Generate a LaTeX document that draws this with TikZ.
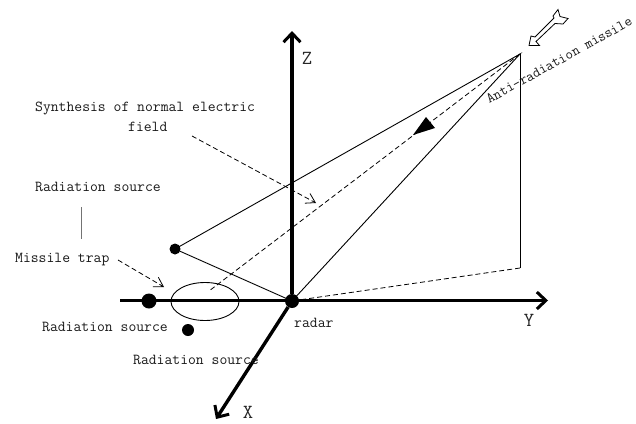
\documentclass[tikz,border=0pt]{standalone}
\usetikzlibrary{arrows.meta,shapes.geometric}
\tikzset{
  every picture/.style={x=1pt,y=-1pt},
  lbl/.style={inner sep=0pt,anchor=west,font=\fontsize{15.24}{16}\selectfont\ttfamily,text=black!90},
  axl/.style={inner sep=0pt,font=\fontsize{20}{21}\selectfont\ttfamily,text=black!85},
  axis/.style={line width=3.4pt,-{Straight Barb[length=9pt,width=17pt,line width=3pt]}},
  thin line/.style={line width=0.9pt},
  dash line/.style={line width=0.8pt,dash pattern=on 5pt off 3pt},
  dash arrow/.style={dash line,-{Straight Barb[length=9pt,width=11pt,line width=0.8pt]}},
  dot/.style={circle,fill=black,inner sep=0pt},
}
\begin{document}
\begin{tikzpicture}
\useasboundingbox (0,0) rectangle (636,423);
\clip (0,0) rectangle (636,423);
\coordinate (zend) at (292,31);
\coordinate (yb) at (120,300.5);
\coordinate (yend) at (548,300.5);
\coordinate (xend) at (216,419);
\coordinate (M) at (520,54);
\coordinate (F) at (520,268);
\coordinate (dashend) at (209,291);
\coordinate (s1a) at (192,136);
\coordinate (s1b) at (316,203);
\coordinate (s2a) at (118,260);
\coordinate (s2b) at (164,287);
\coordinate (b1) at (81,207);
\coordinate (b2) at (81,239);
\node[dot,minimum size=14pt] (O) at (292,301) {};
\node[dot,minimum size=15pt] (A) at (149,301) {};
\node[dot,minimum size=12pt] (B) at (188,330) {};
\node[dot,minimum size=11pt] (C) at (175,249) {};
\draw[axis] (O) -- (zend);
\draw[axis] (yb) -- (yend);
\draw[axis] (O) -- (xend);
\draw[thin line] (C.center) -- (M) -- (O.center) -- (C.center);
\draw[thin line] (M) -- (F);
\draw[dash line] (F) -- (O);
\draw[dash line] (M) -- (dashend);
\draw[fill=black,draw=none] (413,135) -- (426,117) -- (435,128) -- cycle;
\draw[dash arrow] (s1a) -- (s1b);
\draw[dash arrow] (s2a) -- (s2b);
\draw[black!55,line width=1pt] (b1) -- (b2);
\node[draw,ellipse,line width=0.9pt,minimum width=68pt,minimum height=38pt,inner sep=0pt] (E) at (205,301.5) {};
\draw[line width=0.8pt,fill=white] (529,45.5) -- (539.5,45.5) -- (536,41.5) -- (555,23.5) -- (563,24) -- (568,18.5) -- (560,16.5) -- (558,9.5) -- (553,16) -- (554,18) -- (535,37) -- (531,36) -- cycle;
\node[lbl] (t1) at (35,108) {Synthesis of normal electric};
\node[lbl] (t2) at (128,127) {field};
\node[lbl] (t3) at (35,187) {Radiation source};
\node[lbl] (t4) at (15,260) {Missile trap};
\node[lbl] (t5) at (42,327) {Radiation source};
\node[lbl] (t6) at (133,360) {Radiation source};
\node[lbl] (t7) at (294,323) {radar};
\node[lbl,rotate=29,font=\fontsize{14.5}{16}\selectfont\ttfamily] (t8) at (487,100) {Anti-radiation missile};
\node[axl] (Z) at (307,58) {Z};
\node[axl] (Y) at (529,320) {Y};
\node[axl] (X) at (248,412.5) {X};
\end{tikzpicture}
\end{document}
